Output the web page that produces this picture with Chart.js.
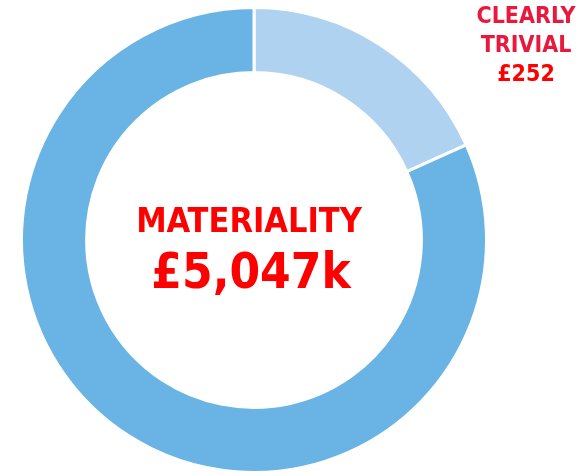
<!DOCTYPE html>
<html>
<head>
<meta charset="utf-8">
<script src="https://cdn.jsdelivr.net/npm/chart.js@4"></script>
<style>
  html, body { margin: 0; padding: 0; background: #fff; }
  #wrap { position: relative; width: 588px; height: 475px; }
  canvas { position: absolute; left: 0; top: 0; }
  .t { position: absolute; font-family: 'DejaVu Sans Condensed', 'DejaVu Sans', sans-serif; font-stretch: condensed; font-weight: bold; text-align: center; white-space: nowrap; line-height: 1; }
  #side { left: 466px; top: 1px; width: 120px; font-size: 23px; line-height: 29px; color: #E8193C; }
  #side .v { color: #FF0000; }
  #c1 { left: 49px; top: 203px; width: 400px; font-size: 34px; color: #FF0000; }
  #c2 { left: 51px; top: 247px; width: 400px; font-size: 49px; color: #FF0000; }
</style>
</head>
<body>
<div id="wrap">
  <canvas id="chart" width="588" height="475"></canvas>
  <div class="t" id="side">CLEARLY<br>TRIVIAL<br><span class="v">£252</span></div>
  <div class="t" id="c1">MATERIALITY</div>
  <div class="t" id="c2">£5,047k</div>
</div>
<script>
const categories = ['Clearly trivial', 'Remaining materiality'];
const shareValues = [18.3, 81.7];
const sliceColors = ['#AFD2F0', '#69B4E4'];

new Chart(document.getElementById('chart'), {
  type: 'doughnut',
  data: {
    labels: categories,
    datasets: [{
      data: shareValues,
      backgroundColor: sliceColors,
      borderColor: '#ffffff',
      borderWidth: 3
    }]
  },
  options: {
    responsive: false,
    animation: false,
    cutout: '72%',
    layout: { padding: { left: 20, right: 100, top: 6, bottom: 1 } },
    plugins: { legend: { display: false }, tooltip: { enabled: false } }
  }
});
</script>
</body>
</html>
